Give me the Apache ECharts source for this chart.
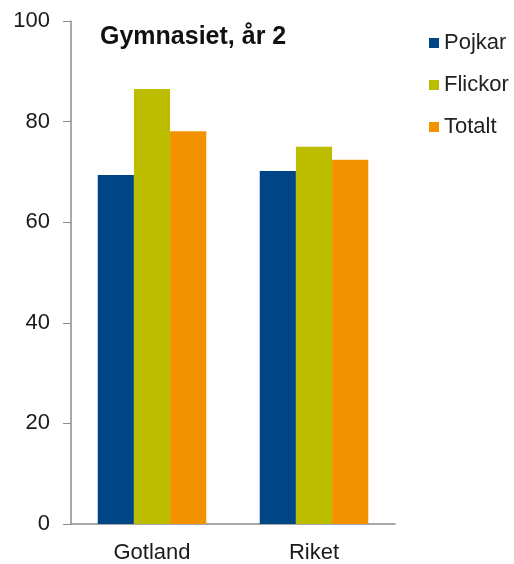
<!DOCTYPE html>
<html>
<head>
<meta charset="utf-8">
<script src="https://cdn.jsdelivr.net/npm/echarts@6/dist/echarts.min.js"></script>
<style>
  html, body { margin: 0; padding: 0; background: #fff; }
  #chart { width: 514px; height: 564px; }
</style>
</head>
<body>
<div id="chart"></div>
<script>
// data
const categories = ['Gotland', 'Riket'];
const pojkar = [69.4, 70.2];
const flickor = [86.5, 75.0];
const totalt = [78.1, 72.4];
const yTicks = [0, 20, 40, 60, 80, 100];

const font = 'Liberation Sans, Arial, sans-serif';

const chart = echarts.init(document.getElementById('chart'));

const option = {
    animation: false,
    title: {
        text: 'Gymnasiet, år 2',
        left: 95,
        top: 20,
        textStyle: { fontFamily: font, fontSize: 25, fontWeight: 'bold', color: '#111' }
    },
    legend: {
        orient: 'vertical',
        left: 424,
        top: 27,
        itemWidth: 10,
        itemHeight: 10,
        itemGap: 20,
        icon: 'rect',
        textStyle: { fontFamily: font, fontSize: 22, color: '#222' },
        data: ['Pojkar', 'Flickor', 'Totalt']
    },
    grid: { left: 71, right: 119, top: 21, bottom: 38 },
    xAxis: {
        type: 'category',
        data: categories,
        axisLine: { lineStyle: { color: '#8c8c8c', width: 1.5 } },
        axisTick: { show: false },
        axisLabel: { fontFamily: font, fontSize: 22, color: '#1a1a1a', margin: 18 }
    },
    yAxis: {
        type: 'value',
        min: yTicks[0],
        max: yTicks[yTicks.length - 1],
        interval: 20,
        splitLine: { show: false },
        axisLine: { show: true, lineStyle: { color: '#8c8c8c', width: 1.5 } },
        axisTick: { show: true, length: 8, lineStyle: { color: '#8c8c8c' } },
        axisLabel: { fontFamily: font, fontSize: 22, color: '#1a1a1a', margin: 21 }
    },
    series: [
        { name: 'Pojkar', type: 'bar', data: pojkar, itemStyle: { color: '#004586' }, barGap: '0%', barCategoryGap: '33%' },
        { name: 'Flickor', type: 'bar', data: flickor, itemStyle: { color: '#bdbd00' } },
        { name: 'Totalt', type: 'bar', data: totalt, itemStyle: { color: '#f39200' } }
    ]
};

chart.setOption(option);
</script>
</body>
</html>
